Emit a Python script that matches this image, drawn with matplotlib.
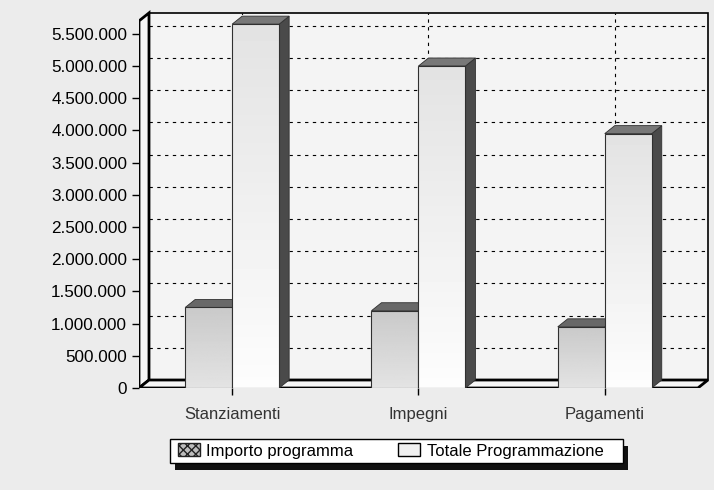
import numpy as np
import matplotlib.pyplot as plt
from matplotlib.patches import Polygon, Rectangle, Patch

categories = ['Stanziamenti', 'Impegni', 'Pagamenti']
importo_programma = [1250000, 1200000, 950000]
totale_programmazione = [5650000, 5000000, 3950000]
series_names = ['Importo programma', 'Totale Programmazione']
y_ticks = [0, 500000, 1000000, 1500000, 2000000, 2500000, 3000000,
           3500000, 4000000, 4500000, 5000000, 5500000]
y_tick_labels = ['0', '500.000', '1.000.000', '1.500.000', '2.000.000',
                 '2.500.000', '3.000.000', '3.500.000', '4.000.000',
                 '4.500.000', '5.000.000', '5.500.000']
y_top = 5700000

plt.rcParams['font.family'] = ['Liberation Sans', 'DejaVu Sans']
plt.rcParams['font.size'] = 12

W, H = 714, 490
fig = plt.figure(figsize=(W / 100, H / 100), dpi=100, facecolor='#ececec')
ax = fig.add_axes([139 / W, 1 - 388 / H, (712 - 139) / W, (388 - 8) / H])
ax.set_facecolor('none')

# pixel scale of the front plane
cat_px = 186.3
val_px = 64.4 / 1e6
ax.set_xlim(-0.5, -0.5 + (712 - 139) / cat_px)
ax.set_ylim(0, (388 - 8) / val_px)
dx = 10 / cat_px
dy = 8 / val_px
x0, x1 = -0.5, len(categories) - 0.5

# back wall, side wall and floor
ax.add_patch(Rectangle((x0 + dx, dy), x1 - x0, y_top, fc='#f4f4f4',
                       ec='black', lw=1.2, zorder=1))
for v in y_ticks[1:]:
    ax.plot([x0 + dx, x1 + dx], [v + dy, v + dy], color='black', lw=0.8,
            ls=(0, (3, 4)), zorder=2)
for i in range(len(categories)):
    ax.plot([i + dx, i + dx], [dy, y_top + dy], color='black', lw=0.8,
            ls=(0, (3, 4)), zorder=2)
ax.add_patch(Polygon([(x0, 0), (x0 + dx, dy), (x0 + dx, y_top + dy),
                      (x0, y_top)], closed=True, fc='#f6f6f6', ec='black',
                     lw=2, zorder=3))
ax.add_patch(Polygon([(x0, 0), (x1, 0), (x1 + dx, dy), (x0 + dx, dy)],
                     closed=True, fc='#f6f6f6', ec='black', lw=2, zorder=3))

w = 47 / cat_px


def bar3d(left, value, top_col, grad, z):
    right = left + w
    ax.add_patch(Polygon([(right, 0), (right + dx, dy), (right + dx, value + dy),
                          (right, value)], closed=True, fc='#4a4a4a',
                         ec='#303030', lw=0.6, zorder=z))
    ax.add_patch(Polygon([(left, value), (left + dx, value + dy),
                          (right + dx, value + dy), (right, value)], closed=True,
                         fc=top_col, ec='#303030', lw=0.6, zorder=z))
    front = ax.bar(left, value, w, align='edge', color='none',
                   edgecolor='#303030', lw=0.8, zorder=z + 0.2)[0]
    img = ax.imshow(np.linspace(grad[0], grad[1], 64).reshape(-1, 1),
                    cmap='gray', vmin=0, vmax=1, aspect='auto',
                    extent=(left, right, 0, value), zorder=z + 0.1,
                    origin='upper')
    img.set_clip_path(front)


for i in range(len(categories)):
    bar3d(i - w, importo_programma[i], '#686868', (0.79, 0.89), 4 + i)
    bar3d(i, totale_programmazione[i], '#787878', (0.89, 0.99), 4.5 + i)

ax.set_xlim(-0.5, -0.5 + (712 - 139) / cat_px)
ax.set_ylim(0, (388 - 8) / val_px)
ax.set_yticks(y_ticks, y_tick_labels)
ax.set_xticks(range(len(categories)), categories, color='#333333')
ax.tick_params(axis='y', length=5, width=1, pad=3.5, labelsize=12.3)
ax.tick_params(axis='x', length=5, width=1, pad=9)
for s in ax.spines.values():
    s.set_visible(False)

# legend box with drop shadow
fig.add_artist(Rectangle((175 / W, 1 - 470 / H), 453 / W, 24 / H,
                         transform=fig.transFigure, fc='#111111', ec='none',
                         zorder=5))
fig.add_artist(Rectangle((170 / W, 1 - 463 / H), 453 / W, 24 / H,
                         transform=fig.transFigure, fc='white', ec='black',
                         lw=1, zorder=6))
handles = [Patch(facecolor='#bdbdbd', edgecolor='#222222', hatch='xxxx'),
           Patch(facecolor='#f0f0f0', edgecolor='black')]
leg = fig.legend(handles, series_names, loc='center left', ncol=2,
                 bbox_to_anchor=(178 / W, 1 - 451 / H), frameon=False,
                 handlelength=1.3, handleheight=0.8, handletextpad=0.4,
                 columnspacing=2.7, borderpad=0, borderaxespad=0)
leg.set_zorder(7)

fig.savefig('out.png', dpi=100, facecolor=fig.get_facecolor())
